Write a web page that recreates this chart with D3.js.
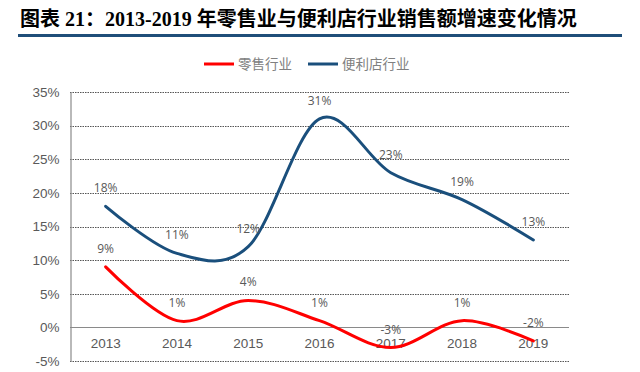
<!DOCTYPE html>
<html><head><meta charset="utf-8">
<script src="https://cdn.jsdelivr.net/npm/d3@7"></script>
<style>body{margin:0;background:#fff}svg{display:block}</style>
</head><body><svg id="c" width="640" height="372"></svg>
<script>
const years = ["2013","2014","2015","2016","2017","2018","2019"];
const retail = [9, 1, 4, 1, -3, 1, -2];
const convenience = [18, 11, 12, 31, 23, 19, 13];
const yTicks = [-5, 0, 5, 10, 15, 20, 25, 30, 35];
const seriesNames = ["零售行业", "便利店行业"];
const colors = ["#ff0000", "#1a4f7c"];

const svg = d3.select("#c");
const W = 640, H = 372;
const m = {left: 70, right: 71, top: 92, bottom: 11};

svg.append("text").attr("x", 20).attr("y", 26)
  .attr("font-family", "'Liberation Serif','Noto Sans CJK SC',serif")
  .attr("font-weight", "bold").attr("font-size", 20).attr("fill", "#000")
  .text("图表 21：2013-2019 年零售业与便利店行业销售额增速变化情况");
svg.append("rect").attr("x", 18).attr("y", 34).attr("width", 604).attr("height", 3).attr("fill", "#1f4e79");

const x = d3.scaleBand().domain(years).range([m.left, W - m.right]);
const y = d3.scaleLinear().domain([-5, 35]).range([H - m.bottom, m.top]);
const cx = d => x(d) + x.bandwidth() / 2;

// gridlines
svg.append("g").selectAll("line").data(yTicks.filter(t => t !== 0)).join("line")
  .attr("x1", m.left).attr("x2", W - m.right)
  .attr("y1", d => Math.round(y(d)) + 0.5).attr("y2", d => Math.round(y(d)) + 0.5)
  .attr("stroke", "#555").attr("stroke-width", 1).attr("stroke-dasharray", "1.5,1");
// zero line
svg.append("line").attr("x1", m.left).attr("x2", W - m.right)
  .attr("y1", Math.round(y(0)) + 0.5).attr("y2", Math.round(y(0)) + 0.5)
  .attr("stroke", "#8a8a8a").attr("stroke-width", 1.2);
// left axis
const yAxis = d3.axisLeft(y).tickValues(yTicks).tickSize(0).tickPadding(11).tickFormat(d => d + "%");
const ga = svg.append("g").attr("transform", `translate(${m.left + 0.5},0)`).call(yAxis);
ga.select(".domain").attr("stroke", "#8a8a8a").attr("stroke-width", 1.2);
ga.selectAll("text").attr("font-family", "'Liberation Sans',Arial,sans-serif").attr("font-size", 13.5).attr("fill", "#595959");

// x labels
const xAxis = d3.axisBottom(x).tickSize(0).tickPadding(11);
const gx = svg.append("g").attr("transform", `translate(0,${y(0)})`).call(xAxis);
gx.select(".domain").remove();
gx.selectAll("text").attr("font-family", "'Liberation Sans',Arial,sans-serif").attr("font-size", 13.5).attr("fill", "#595959");

const line = d3.line().x((d, i) => cx(years[i])).y(d => y(d)).curve(d3.curveCardinal.tension(0));
[retail, convenience].forEach((s, k) => {
  svg.append("path").attr("d", line(s)).attr("fill", "none")
    .attr("stroke", colors[k]).attr("stroke-width", 3).attr("stroke-linecap", "round");
});
[retail, convenience].forEach((s, k) => {
  svg.append("g").selectAll("text").data(s).join("text")
    .attr("x", (d, i) => cx(years[i])).attr("y", d => y(d) - 14)
    .attr("text-anchor", "middle")
    .attr("font-family", "'Open Sans',sans-serif").attr("font-size", 12).attr("fill", "#595959")
    .text(d => d + "%");
});

// legend
const leg = [{x: 204, tx: 238}, {x: 308, tx: 342}];
seriesNames.forEach((n, k) => {
  svg.append("line").attr("x1", leg[k].x).attr("x2", leg[k].x + 30).attr("y1", 64).attr("y2", 64)
    .attr("stroke", colors[k]).attr("stroke-width", 3);
  svg.append("text").attr("x", leg[k].tx).attr("y", 69)
    .attr("font-family", "'Noto Sans CJK SC',sans-serif").attr("font-size", 13.5).attr("fill", "#808080")
    .text(n);
});
</script></body></html>
